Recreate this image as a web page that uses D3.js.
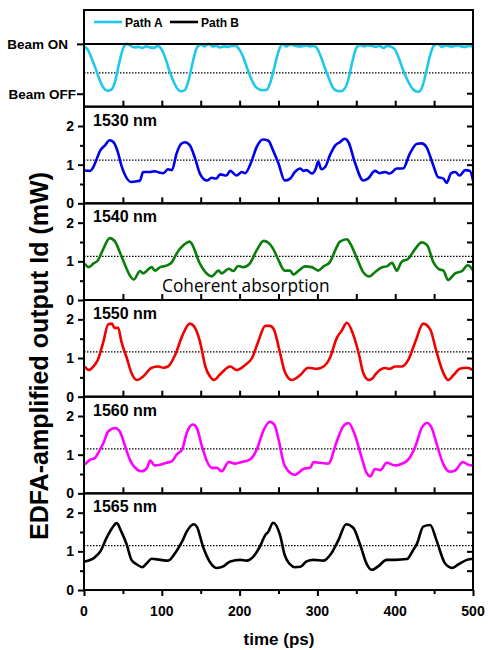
<!DOCTYPE html>
<html>
<head>
<meta charset="utf-8">
<script src="https://cdn.jsdelivr.net/npm/d3@7"></script>
<style>
body { margin: 0; background: #fff; }
svg text { font-family: "Liberation Sans", Arial, sans-serif; font-weight: bold; }
</style>
</head>
<body>
<svg id="chart" width="488" height="650"></svg>
<script>
// time axis (ps)
var time_ticks = [0, 100, 200, 300, 400, 500];

// top panel: beam state, Path A (0 = off, 1 = on)
var path_a = [[0,0.95],[5,0.88],[10,0.7],[15,0.5],[20,0.28],[25,0.12],[30,0.06],[35,0.08],[40,0.25],[45,0.6],[50,0.9],[55,1.0],
    [60,0.96],[65,0.93],[70,0.94],[75,0.92],[80,0.95],[85,0.93],[90,0.92],[95,0.96],[100,0.88],[105,0.7],[110,0.45],[115,0.25],
    [120,0.1],[125,0.05],[130,0.08],[135,0.3],[140,0.65],[145,0.92],[150,0.99],[155,0.95],[160,1.0],[165,0.95],[170,0.96],[175,0.93],
    [180,0.95],[185,0.94],[190,0.96],[195,0.96],[200,0.88],[205,0.72],[210,0.5],[215,0.3],[220,0.15],[225,0.09],[230,0.07],[235,0.08],
    [240,0.25],[245,0.55],[250,0.85],[255,1.0],[260,0.95],[265,0.99],[270,0.97],[275,0.95],[280,0.95],[285,0.97],[290,0.95],[295,0.96],
    [300,0.9],[305,0.72],[310,0.5],[315,0.3],[320,0.12],[325,0.06],[330,0.05],[335,0.1],[340,0.3],[345,0.65],[350,0.92],[355,0.98],
    [360,0.95],[365,0.97],[370,0.96],[375,0.94],[380,0.96],[385,0.92],[390,0.96],[395,0.94],[400,0.88],[405,0.7],[410,0.48],[415,0.3],
    [420,0.15],[425,0.06],[430,0.04],[435,0.15],[440,0.45],[445,0.78],[450,0.97],[455,1.0],[460,0.94],[465,0.97],[470,0.95],[475,0.95],
    [480,0.97],[485,0.95],[490,0.94],[495,0.96],[500,0.95]];
var path_b = [[0,1],[500,1]];

// EDFA-amplified output (mW) per wavelength
var out_1530 = [[1,0.85],[8,0.84],[12,0.94],[21,1.37],[27,1.5],[33,1.63],[38,1.58],[44,1.29],[48,0.98],[53,0.72],[61,0.55],[68,0.57],
    [72,0.59],[76,0.81],[85,0.81],[91,0.83],[96,0.8],[102,0.78],[108,0.88],[113,0.86],[119,1.29],[125,1.54],[130,1.58],[136,1.5],
    [143,1.15],[149,0.77],[158,0.59],[164,0.66],[170,0.64],[175,0.75],[183,0.72],[188,0.84],[196,0.72],[203,0.81],[207,0.78],[215,1.07],
    [222,1.46],[230,1.65],[237,1.62],[243,1.37],[250,1.03],[258,0.59],[265,0.64],[271,0.81],[278,0.9],[282,0.84],[286,0.86],[293,0.77],
    [298,0.9],[301,1.08],[305,0.88],[310,0.94],[316,1.24],[323,1.5],[329,1.58],[335,1.67],[340,1.58],[348,1.07],[359,0.59],[365,0.64],
    [374,0.84],[380,0.78],[387,0.81],[393,0.77],[402,0.9],[410,0.9],[419,1.29],[428,1.54],[434,1.55],[440,1.46],[449,0.98],[455,0.68],
    [462,0.64],[466,0.53],[472,0.78],[477,0.81],[483,0.72],[490,0.86],[496,0.84],[500,0.59]];
var out_1540 = [[1,0.94],[6,0.85],[12,0.94],[18,1.03],[25,1.33],[33,1.6],[40,1.51],[46,1.24],[53,0.89],[59,0.63],[64,0.53],[72,0.75],
    [76,0.69],[87,0.85],[91,0.76],[98,0.85],[106,0.89],[113,0.98],[119,1.2],[128,1.42],[136,1.51],[138,1.47],[149,0.94],[158,0.68],
    [164,0.61],[173,0.76],[177,0.69],[186,0.81],[192,0.75],[198,0.88],[205,0.85],[213,0.94],[222,1.29],[231,1.53],[237,1.48],[243,1.33],
    [250,1.03],[258,0.76],[265,0.76],[269,0.66],[276,0.76],[284,0.87],[293,0.85],[301,0.76],[308,0.87],[316,0.98],[323,1.29],[329,1.51],
    [338,1.57],[342,1.47],[351,1.07],[359,0.72],[367,0.61],[374,0.72],[383,0.85],[389,0.87],[396,0.96],[402,0.76],[408,0.98],[417,1.07],
    [426,1.33],[434,1.49],[441,1.42],[449,0.98],[456,0.8],[462,0.76],[468,0.52],[477,0.69],[486,0.75],[493,0.9],[497,0.85],[500,0.76]];
var out_1550 = [[1,0.78],[6,0.69],[12,0.78],[18,0.96],[25,1.43],[31,1.87],[36,1.89],[39,1.78],[44,1.78],[48,1.43],[55,1.0],[61,0.61],
    [68,0.43],[76,0.52],[87,0.75],[96,0.78],[102,0.75],[108,0.78],[117,1.07],[126,1.56],[136,1.89],[141,1.83],[149,1.43],[156,0.78],
    [162,0.52],[167,0.43],[175,0.58],[188,0.78],[196,0.69],[207,0.82],[216,1.0],[224,1.43],[233,1.83],[239,1.83],[244,1.74],[252,1.13],
    [258,0.65],[267,0.43],[278,0.56],[288,0.75],[299,0.72],[308,0.78],[316,1.0],[325,1.52],[331,1.7],[338,1.91],[346,1.61],[353,1.13],
    [359,0.61],[366,0.43],[370,0.46],[376,0.61],[387,0.74],[393,0.72],[400,0.78],[408,0.78],[417,0.96],[426,1.43],[436,1.89],[445,1.74],
    [453,1.17],[462,0.61],[468,0.43],[475,0.56],[483,0.72],[492,0.75],[500,0.69]];
var out_1560 = [[1,0.74],[8,0.87],[14,0.91],[18,1.04],[25,1.3],[31,1.6],[40,1.69],[46,1.6],[53,1.21],[59,0.87],[68,0.62],[74,0.57],
    [81,0.66],[85,0.85],[91,0.72],[98,0.74],[106,0.79],[113,0.83],[119,1.0],[126,1.13],[132,1.56],[140,1.78],[145,1.69],[151,1.26],
    [158,0.83],[164,0.66],[171,0.66],[177,0.57],[186,0.81],[194,0.77],[203,0.81],[213,0.87],[222,1.13],[231,1.64],[239,1.85],[245,1.76],
    [250,1.4],[258,0.71],[271,0.48],[282,0.63],[291,0.67],[295,0.81],[303,0.79],[314,0.77],[325,1.35],[333,1.73],[340,1.82],[348,1.52],
    [357,0.92],[363,0.54],[368,0.44],[374,0.63],[381,0.6],[389,0.79],[400,0.72],[408,0.76],[417,0.88],[426,1.22],[434,1.69],[441,1.82],
    [447,1.69],[453,1.3],[462,0.75],[470,0.56],[477,0.59],[487,0.81],[494,0.74],[500,0.72]];
var out_1565 = [[1,0.74],[14,0.85],[21,1.0],[29,1.35],[36,1.6],[42,1.73],[48,1.51],[55,1.17],[61,0.78],[68,0.66],[75,0.59],[81,0.7],
    [87,0.81],[98,0.78],[108,0.76],[117,0.95],[126,1.25],[132,1.51],[141,1.7],[145,1.64],[153,1.12],[162,0.72],[171,0.57],[179,0.61],
    [188,0.74],[201,0.78],[209,0.76],[218,0.87],[226,1.12],[233,1.42],[237,1.51],[243,1.74],[252,1.42],[258,0.9],[265,0.66],[271,0.59],
    [278,0.6],[286,0.74],[295,0.78],[308,0.76],[318,0.95],[327,1.29],[337,1.7],[346,1.61],[355,1.17],[363,0.69],[370,0.52],[378,0.61],
    [389,0.78],[400,0.78],[415,0.8],[423,1.03],[428,1.2],[436,1.64],[445,1.68],[453,1.29],[464,0.69],[473,0.57],[481,0.66],[492,0.78],
    [500,0.81]];

var wavelengths = ["1530 nm", "1540 nm", "1550 nm", "1560 nm", "1565 nm"];
var outputs = [out_1530, out_1540, out_1550, out_1560, out_1565];
var colors = ["#0000ee", "#0a7d0a", "#f00000", "#ff00ff", "#000000"];
// dotted reference level, first entry is the top panel
var levels = [0.42, 1.12, 1.13, 1.16, 1.15, 1.15];
var y_ticks = [0, 1, 2];

var svg = d3.select("#chart");
var left_x = 84, right_x = 473, top_y = 10, panel_h = 96.67;
var x = d3.scaleLinear().domain([0, 500]).range([left_x, right_x]);

function draw_frame(g, y0, y1, last)
{
    // x ticks
    var xt = g.append("g").attr("transform", "translate(0," + y1 + ")");
    if (last)
    {
        xt.call(d3.axisBottom(x).tickValues(time_ticks).tickSize(6).tickFormat(""));
        xt.append("g").call(d3.axisBottom(x).tickValues([50, 150, 250, 350, 450]).tickSize(4).tickFormat(""));
    }
    else
    {
        xt.call(d3.axisTop(x).tickValues(d3.range(50, 500, 50)).tickSize(6).tickFormat(""));
    }
    xt.selectAll(".domain").remove();
    xt.selectAll("line").attr("stroke", "#000").attr("stroke-width", 2);
    g.append("rect").
        attr("x", left_x).attr("y", y0).
        attr("width", right_x - left_x).attr("height", y1 - y0).
        attr("fill", "none").attr("stroke", "#000").attr("stroke-width", 2);
}

function draw_dotted(g, y, level)
{
    g.append("line").
        attr("x1", left_x).attr("x2", right_x).
        attr("y1", y(level)).attr("y2", y(level)).
        attr("stroke", "#000").attr("stroke-width", 1.3).attr("stroke-dasharray", "1.5,1.5");
}

function draw_curve(g, y, data, color, width)
{
    var line = d3.line().
        x(function(d) { return x(d[0]); }).
        y(function(d) { return y(d[1]); }).
        curve(d3.curveMonotoneX);
    g.append("path").datum(data).
        attr("d", line).
        attr("fill", "none").attr("stroke", color).
        attr("stroke-width", width).attr("stroke-linejoin", "round");
}

// top panel
var y_top = d3.scaleLinear().domain([-0.26, 1.68]).range([top_y + panel_h, top_y]);
var g0 = svg.append("g");
draw_dotted(g0, y_top, levels[0]);
draw_curve(g0, y_top, path_a, "#1ec8ea", 2.6);
draw_frame(g0, top_y, top_y + panel_h, false);
draw_curve(g0, y_top, path_b, "#000", 2);
var ab = g0.append("g").attr("transform", "translate(" + left_x + ",0)").
    call(d3.axisLeft(y_top).tickValues([0, 1]).tickSize(7).tickPadding(1).
        tickFormat(function(d) { return d == 1 ? "Beam ON" : "Beam OFF"; }));
ab.select(".domain").remove();
ab.selectAll("line").attr("stroke-width", 2);
ab.selectAll("text").attr("font-size", "13.5px").attr("font-family", null).attr("fill", "#000").
    attr("dx", function(d) { return d == 1 ? -8 : 0; });
g0.append("line").
    attr("x1", right_x - 6).attr("x2", right_x).attr("y1", y_top(0)).attr("y2", y_top(0)).
    attr("stroke", "#000").attr("stroke-width", 2);

// legend
var legend = [["Path A", "#1ec8ea", 94], ["Path B", "#000", 170]];
legend.forEach(function(l)
{
    g0.append("line").attr("x1", l[2]).attr("x2", l[2] + 28).attr("y1", 22).attr("y2", 22).
        attr("stroke", l[1]).attr("stroke-width", 2.6);
    g0.append("text").attr("x", l[2] + 31).attr("y", 26.5).attr("font-size", "12px").text(l[0]);
});

// wavelength panels
for (var i = 0; i < outputs.length; i++)
{
    var y0 = top_y + panel_h * (i + 1), y1 = y0 + panel_h;
    var y = d3.scaleLinear().domain([0, 2.5]).range([y1, y0]);
    var g = svg.append("g");
    draw_dotted(g, y, levels[i + 1]);
    draw_curve(g, y, outputs[i], colors[i], 2.6);
    draw_frame(g, y0, y1, i == outputs.length - 1);
    var ax = g.append("g").attr("transform", "translate(" + left_x + ",0)");
    ax.call(d3.axisLeft(y).tickValues(y_ticks).tickSize(6).tickPadding(4).tickFormat(d3.format("d")));
    ax.append("g").call(d3.axisLeft(y).tickValues([0.5, 1.5]).tickSize(4).tickFormat(""));
    ax.selectAll(".domain").remove();
    ax.selectAll("line").attr("stroke-width", 2);
    ax.selectAll("text").attr("font-size", "14px").attr("font-family", null).attr("fill", "#000");
    var ar = g.append("g").attr("transform", "translate(" + right_x + ",0)");
    ar.call(d3.axisLeft(y).tickValues([0.5, 1, 1.5, 2]).tickSize(6).tickFormat(""));
    ar.selectAll(".domain").remove();
    ar.selectAll("line").attr("stroke-width", 2);
    g.append("text").attr("x", 93).attr("y", y0 + 19).attr("font-size", "16px").text(wavelengths[i]);
}

// bottom tick labels
var bottom_y = top_y + panel_h * 6;
svg.append("g").selectAll("text").data(time_ticks).enter().append("text").
    attr("x", function(d) { return x(d); }).attr("y", bottom_y + 26).
    attr("text-anchor", "middle").attr("font-size", "14px").
    text(function(d) { return d; });

svg.append("text").attr("x", 279).attr("y", 645).attr("text-anchor", "middle").
    attr("font-size", "17px").text("time (ps)");
svg.append("text").attr("transform", "translate(48,356) rotate(-90)").attr("text-anchor", "middle").
    attr("font-size", "25px").text("EDFA-amplified output Id (mW)");
svg.append("text").attr("x", 162).attr("y", 292).
    style("font-family", "'Open Sans', sans-serif").style("font-weight", "normal").
    attr("font-size", "17.3px").text("Coherent absorption");
</script>
</body>
</html>
